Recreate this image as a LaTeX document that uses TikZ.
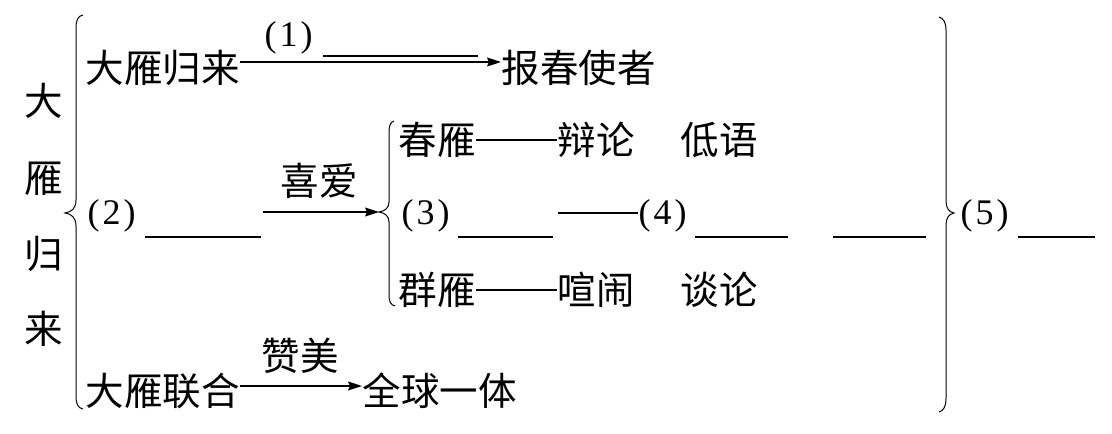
\documentclass[tikz,border=0pt]{standalone}
\usepackage{fontspec}
\setmainfont{Liberation Serif}
\newfontfamily\cjk{Noto Sans CJK SC}
\usetikzlibrary{arrows.meta}
\begin{document}
\begin{tikzpicture}[x=1pt,y=-1pt,line width=1.1pt,
  cj/.style={inner sep=0pt,anchor=base west,font=\cjk\fontsize{38.5pt}{40pt}\selectfont},
  num/.style={inner sep=0pt,anchor=base west,font=\fontsize{36pt}{38pt}\selectfont},
  arr/.style={-{Stealth[length=14pt,width=9pt,inset=2pt]}},
  blank/.style={line width=1.2pt},
  brace/.style={line width=1pt}]
\path[use as bounding box] (0,0) rectangle (1112,434);
% level coordinates
\coordinate (y62) at (0,62);
\coordinate (y140) at (0,140);
\coordinate (y290) at (0,290);
\coordinate (y386) at (0,386);
% vertical title
\node[cj,anchor=base] (v1) at (44,115) {大};
\node[cj,anchor=base] (v2) at (44,192) {雁};
\node[cj,anchor=base] (v3) at (44,268) {归};
\node[cj,anchor=base] (v4) at (44,343) {来};
% big left brace
\draw[brace] (83,15) .. controls (78,16) and (76,20) .. (76,28) -- (76,200) .. controls (76,208) and (72,212) .. (65,213) .. controls (72,214) and (76,218) .. (76,226) -- (76,396) .. controls (76,404) and (78,408) .. (83,409);
% row 1
\node[cj] (r1a) at (85,82) {大雁归来};
\node[cj] (r1b) at (501,82) {报春使者};
\node[num] (n1) at (264,46) {(\kern3pt 1\kern3pt)};
\draw[arr] (r1a.east |- y62) -- (r1b.west |- y62);
\draw (323,56) -- (478,56);
% row 2
\node[cj] (c1) at (398,154) {春雁};
\node[cj] (c2) at (557,154) {辩论};
\node[cj] (c3) at (680,154) {低语};
\draw (c1.east |- y140) -- (c2.west |- y140);
% row 3
\node[num] (p2) at (87,224) {(\kern3pt 2\kern3pt)};
\coordinate (b2s) at (145,237);
\coordinate (b2e) at (261,237);
\draw[blank] (b2s) -- (b2e);
\coordinate (a2s) at (263,212);
\coordinate (sbtip) at (379,212);
\node[cj,anchor=base] (xa) at (319,195) {喜爱};
\draw[arr] (a2s) -- (sbtip);
\draw[brace] (394,121) .. controls (391,122) and (389,125) .. (389,131) -- (389,202) .. controls (389,208) and (385,211) .. (sbtip) .. controls (385,213) and (389,216) .. (389,222) -- (389,296) .. controls (389,302) and (391,305) .. (395,306);
\node[num] (p3) at (401,224) {(\kern3pt 3\kern3pt)};
\coordinate (b3s) at (458,237);
\coordinate (b3e) at (553,237);
\draw[blank] (b3s) -- (b3e);
\coordinate (d4) at (558,213);
\node[num] (p4) at (638,224) {(\kern3pt 4\kern3pt)};
\draw (d4) -- (p4.west |- d4);
\coordinate (b4s) at (695,237);
\coordinate (b4e) at (788,237);
\draw[blank] (b4s) -- (b4e);
\coordinate (b4s2) at (833,237);
\coordinate (b4e2) at (926,237);
\draw[blank] (b4s2) -- (b4e2);
% right brace
\coordinate (rbtip) at (954,213);
\draw[brace] (939,17) .. controls (943,18) and (946,22) .. (946,30) -- (946,201) .. controls (946,208) and (949,212) .. (rbtip) .. controls (949,214) and (946,218) .. (946,225) -- (946,399) .. controls (946,407) and (943,411) .. (939,412);
\node[num] (p5) at (960,224) {(\kern3pt 5\kern3pt)};
\coordinate (b5s) at (1018,237);
\coordinate (b5e) at (1095,237);
\draw[blank] (b5s) -- (b5e);
% row 4
\node[cj] (g1) at (398,304) {群雁};
\node[cj] (g2) at (557,304) {喧闹};
\node[cj] (g3) at (680,304) {谈论};
\draw (g1.east |- y290) -- (g2.west |- y290);
% row 5
\node[cj] (r5a) at (85,405) {大雁联合};
\node[cj] (r5b) at (362,405) {全球一体};
\node[cj,anchor=base] (zm) at (300,370) {赞美};
\draw[arr] (r5a.east |- y386) -- (r5b.west |- y386);
\end{tikzpicture}
\end{document}
